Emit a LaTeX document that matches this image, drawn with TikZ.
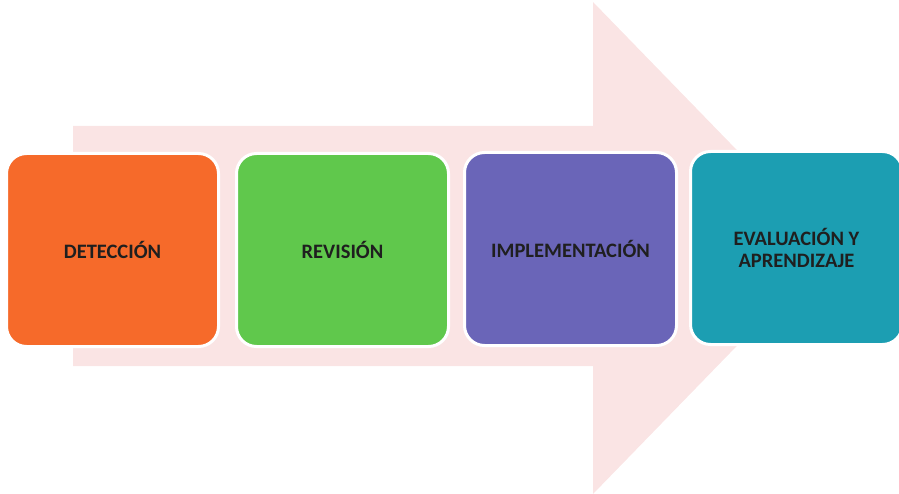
\documentclass[tikz,border=0pt]{standalone}
\usepackage{fontspec}
\setmainfont{Carlito}
\definecolor{arrowpink}{RGB}{250,228,228}
\definecolor{stageorange}{RGB}{246,106,42}
\definecolor{stagegreen}{RGB}{96,200,76}
\definecolor{stagepurple}{RGB}{106,101,184}
\definecolor{stageteal}{RGB}{28,158,178}
\begin{document}
\begin{tikzpicture}[x=1pt, y=-1pt,
    stage/.style={draw=white, line width=3pt, rounded corners=20pt,
      minimum width=212pt, minimum height=193pt, align=center,
      text=black!88, font=\bfseries\fontsize{20.5}{22}\selectfont}]
  \useasboundingbox (0,0) rectangle (899,494);
  % background arrow
  \fill[arrowpink] (73,126) -- (593,126) -- (593,2) -- (832,248)
    -- (593,494) -- (593,366) -- (73,366) -- cycle;
  \node[stage, fill=stageorange] (Det) at (112.5,250) {DETECCIÓN};
  \node[stage, fill=stagegreen] (Rev) at (342.5,250) {REVISIÓN};
  \node[stage, fill=stagepurple] (Imp) at (570.5,249) {IMPLEMENTACIÓN};
  \node[stage, fill=stageteal] (Eva) at (796.5,248) {EVALUACIÓN Y\\APRENDIZAJE};
\end{tikzpicture}
\end{document}
